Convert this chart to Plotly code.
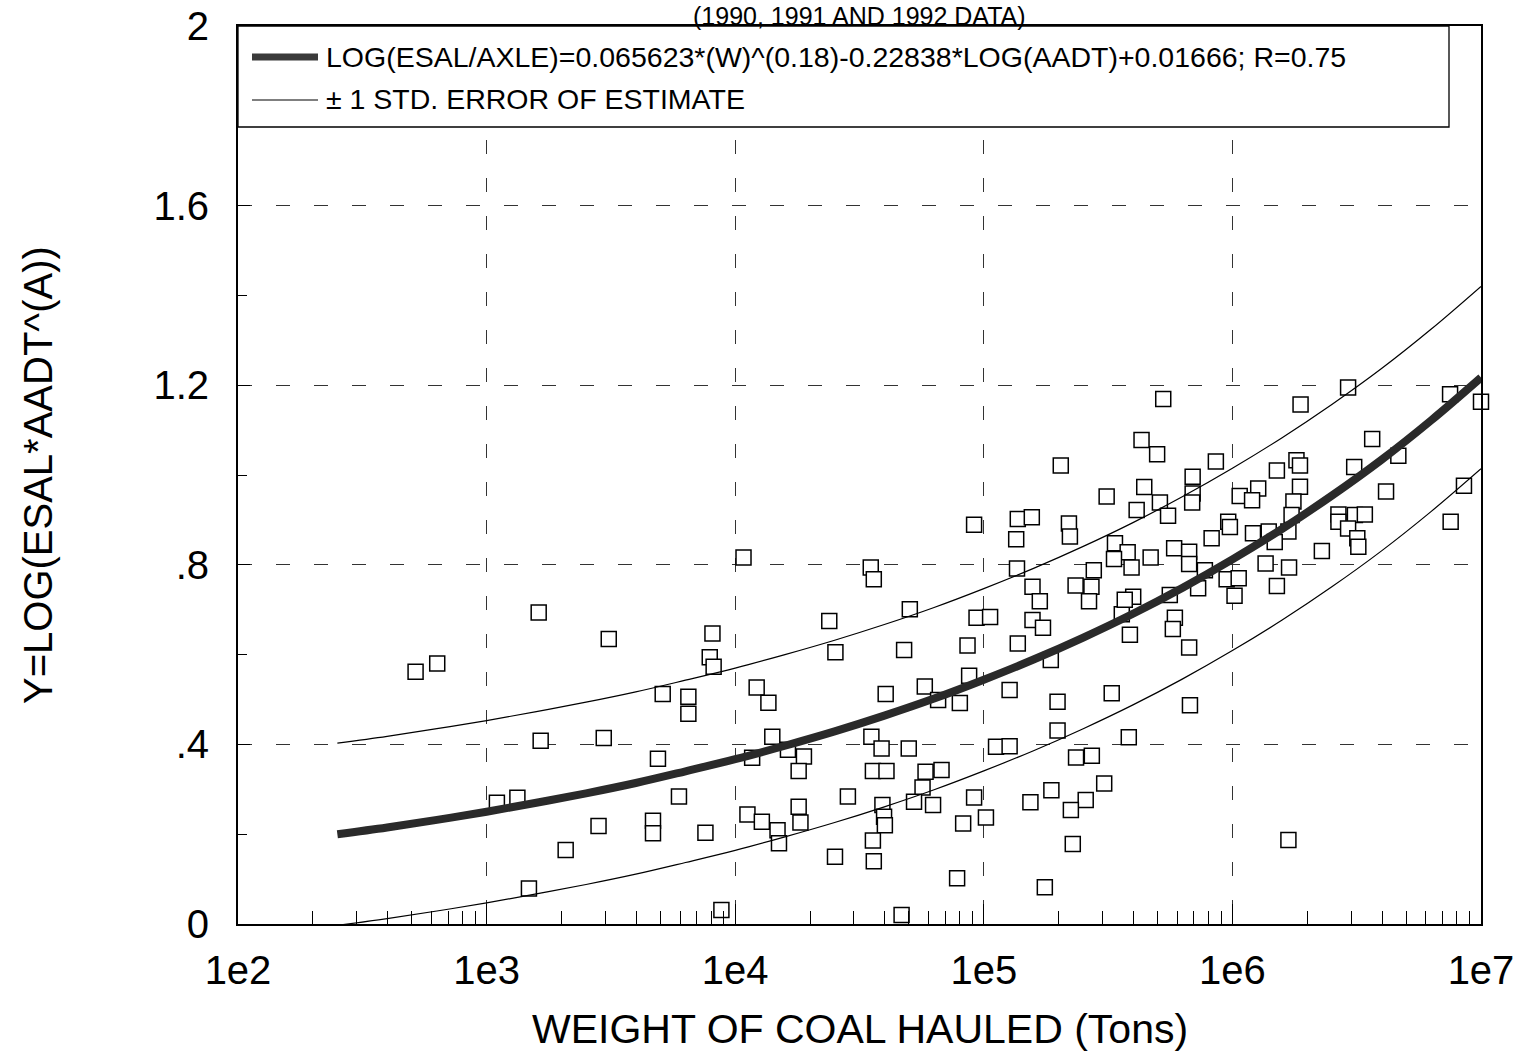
import plotly.graph_objects as go

# ---------------- data ----------------
weight_tons = [
    1620, 3100, 8100, 7900, 8190, 518, 633, 5110, 6480, 6480,
    1650, 2960, 4890, 5940, 1100, 1330, 2820, 4670, 4670, 7590,
    2080, 1480, 8800,
    91400, 137000, 156000, 220000, 135000, 222000, 10800, 35100, 36100, 136000,
    277000, 234000, 271000, 265000, 157000, 168000, 50400, 23900, 93500, 106000,
    157000, 173000, 25300, 47800, 86000, 137000, 186000, 359000, 87300, 12200,
    13600, 40300, 57900, 65500, 80100, 127000, 198000, 327000, 198000, 14100,
    11700, 16300, 18900, 18000, 35300, 38800, 49900, 112000, 127000, 35800,
    40600, 58300, 67600, 235000, 272000, 56700, 52400, 62500, 28400, 91400,
    154000, 187000, 257000, 224000, 305000, 11200, 12800, 18000, 18300, 14800,
    15000, 39100, 39700, 40000, 35800, 36100, 25200, 82600, 102000, 228000,
    78100, 176000, 46700,
    527000, 431000, 498000, 858000, 204000, 692000, 442000, 692000, 312000, 511000,
    689000, 412000, 551000, 1070000, 1270000, 1200000, 962000, 977000, 825000, 1210000,
    337000, 379000, 334000, 393000, 469000, 583000, 670000, 670000, 775000, 728000,
    948000, 1060000, 1020000, 399000, 369000, 560000, 587000, 576000,
    2920000, 7510000, 10000000, 1880000, 3650000, 4650000, 3090000, 1810000, 1870000, 1510000,
    1870000, 4150000, 8540000, 1760000, 1730000, 1400000, 1680000, 1480000, 2670000, 2670000,
    3110000, 3410000, 2920000, 3180000, 3210000, 7550000, 2290000, 1360000, 1690000, 1510000,
    387000, 670000, 675000, 383000, 1680000,
]
y_obs = [
    0.694, 0.635, 0.647, 0.594, 0.573, 0.562, 0.580, 0.512, 0.506, 0.468,
    0.408, 0.414, 0.368, 0.284, 0.270, 0.281, 0.218, 0.230, 0.202, 0.203,
    0.165, 0.079, 0.031,
    0.889, 0.902, 0.906, 0.892, 0.857, 0.863, 0.816, 0.794, 0.768, 0.792,
    0.788, 0.754, 0.751, 0.719, 0.751, 0.719, 0.701, 0.675, 0.682, 0.684,
    0.677, 0.660, 0.605, 0.610, 0.620, 0.625, 0.588, 0.690, 0.553, 0.527,
    0.493, 0.512, 0.529, 0.499, 0.492, 0.521, 0.495, 0.514, 0.431, 0.417,
    0.370, 0.388, 0.373, 0.341, 0.417, 0.391, 0.391, 0.395, 0.396, 0.341,
    0.341, 0.339, 0.343, 0.371, 0.375, 0.304, 0.272, 0.265, 0.284, 0.282,
    0.271, 0.298, 0.276, 0.254, 0.313, 0.244, 0.228, 0.261, 0.226, 0.209,
    0.180, 0.265, 0.239, 0.220, 0.186, 0.140, 0.150, 0.224, 0.237, 0.178,
    0.102, 0.082, 0.020,
    1.169, 1.078, 1.046, 1.030, 1.021, 0.996, 0.973, 0.959, 0.952, 0.939,
    0.939, 0.922, 0.909, 0.953, 0.970, 0.944, 0.896, 0.884, 0.859, 0.870,
    0.848, 0.828, 0.813, 0.794, 0.816, 0.837, 0.829, 0.802, 0.788, 0.748,
    0.768, 0.770, 0.731, 0.729, 0.722, 0.733, 0.682, 0.657,
    1.195, 1.180, 1.163, 1.157, 1.080, 1.043, 1.018, 1.033, 1.021, 1.010,
    0.974, 0.963, 0.976, 0.941, 0.911, 0.874, 0.874, 0.851, 0.912, 0.896,
    0.911, 0.912, 0.881, 0.859, 0.840, 0.896, 0.831, 0.803, 0.794, 0.753,
    0.644, 0.616, 0.487, 0.416, 0.187,
]

curve_w = [251, 398, 631, 1000, 1585, 2512, 3981, 6310, 10000, 15850, 25120, 39810,
           63100, 100000, 158500, 251200, 398100, 631000, 1000000, 1585000,
           2512000, 3981000, 6310000, 10000000]
fit_y = [0.200, 0.215, 0.232, 0.250, 0.270, 0.291, 0.314, 0.340, 0.367, 0.397, 0.429, 0.464,
         0.502, 0.544, 0.589, 0.638, 0.691, 0.749, 0.812, 0.880, 0.954, 1.034, 1.122, 1.217]
upper_y = [0.403, 0.418, 0.435, 0.453, 0.473, 0.494, 0.517, 0.543, 0.570, 0.600, 0.632, 0.667,
           0.705, 0.747, 0.792, 0.841, 0.894, 0.952, 1.015, 1.083, 1.157, 1.237, 1.325, 1.420]
lower_y = [-0.003, 0.012, 0.029, 0.047, 0.067, 0.088, 0.111, 0.137, 0.164, 0.194, 0.226, 0.261,
           0.299, 0.341, 0.386, 0.435, 0.488, 0.546, 0.609, 0.677, 0.751, 0.831, 0.919, 1.014]

x_tick_vals = [1e2, 1e3, 1e4, 1e5, 1e6, 1e7]
x_tick_text = ["1e2", "1e3", "1e4", "1e5", "1e6", "1e7"]
x_minor_vals = [m * 10 ** k for k in range(2, 7) for m in range(2, 10)]
y_tick_vals = [0, 0.4, 0.8, 1.2, 1.6, 2.0]
y_tick_text = ["0", ".4", ".8", "1.2", "1.6", "2"]
y_minor_vals = [0.2, 0.6, 1.0, 1.4, 1.8]

title_text = "(1990, 1991 AND 1992 DATA)"
x_title = "WEIGHT OF COAL HAULED (Tons)"
y_title = "Y=LOG(ESAL*AADT^(A))"
legend_fit = "LOG(ESAL/AXLE)=0.065623*(W)^(0.18)-0.22838*LOG(AADT)+0.01666; R=0.75"
legend_err = "± 1 STD. ERROR OF ESTIMATE"

FONT = "Arial, 'Liberation Sans', Helvetica, sans-serif"

# ---------------- figure ----------------
fig = go.Figure()

fig.add_trace(go.Scatter(
    x=weight_tons, y=y_obs, mode="markers", cliponaxis=False,
    marker=dict(symbol="square", size=15, color="white",
                line=dict(color="black", width=1.5)),
    hoverinfo="skip"))

fig.add_trace(go.Scatter(x=curve_w, y=upper_y, mode="lines", line_shape="spline",
                         line=dict(color="black", width=1.2), hoverinfo="skip"))
fig.add_trace(go.Scatter(x=curve_w, y=lower_y, mode="lines", line_shape="spline",
                         line=dict(color="black", width=1.2), hoverinfo="skip"))
fig.add_trace(go.Scatter(x=curve_w, y=fit_y, mode="lines", line_shape="spline",
                         line=dict(color="#2a2a2a", width=8), hoverinfo="skip"))

W, H = 1526, 1054
ML, MR, MT, MB = 238, 45, 26, 130
PW, PH = W - ML - MR, H - MT - MB


def px_x(p):
    return (p - ML) / PW


def px_y(p):
    return (H - MB - p) / PH


grid_dash = "14px,24px"

fig.update_xaxes(
    type="log", range=[2, 7], automargin=False,
    tickvals=x_tick_vals, ticktext=x_tick_text,
    tickfont=dict(family=FONT, size=40, color="black"),
    ticks="inside", ticklen=20, tickwidth=1.3, tickcolor="black",
    ticklabelstandoff=10,
    showgrid=True, gridcolor="#333333", gridwidth=1, griddash=grid_dash,
    showline=True, linecolor="black", linewidth=1.6, mirror=True,
    zeroline=False,
    minor=dict(tickvals=x_minor_vals, ticks="inside", ticklen=13,
               tickwidth=1.3, tickcolor="black", showgrid=False),
)
fig.update_yaxes(
    range=[0, 2], automargin=False,
    tickvals=y_tick_vals, ticktext=y_tick_text,
    tickfont=dict(family=FONT, size=40, color="black"),
    ticks="inside", ticklen=12, tickwidth=1.3, tickcolor="black",
    ticklabelstandoff=19,
    showgrid=True, gridcolor="#333333", gridwidth=1, griddash=grid_dash,
    showline=True, linecolor="black", linewidth=2, mirror=True,
    zeroline=False,
    minor=dict(tickvals=y_minor_vals, ticks="inside", ticklen=9,
               tickwidth=1.3, tickcolor="black", showgrid=False),
)

shapes = [
    # legend box
    dict(type="rect", xref="paper", yref="paper",
         x0=0, x1=px_x(1449), y0=px_y(127), y1=1.0,
         fillcolor="white", line=dict(color="black", width=1.3), layer="above"),
    dict(type="line", xref="paper", yref="paper",
         x0=px_x(252), x1=px_x(318), y0=px_y(57), y1=px_y(57),
         line=dict(color="#3a3a3a", width=7), layer="above"),
    dict(type="line", xref="paper", yref="paper",
         x0=px_x(252), x1=px_x(318), y0=px_y(100), y1=px_y(100),
         line=dict(color="black", width=1.2), layer="above"),
]

annotations = [
    dict(text=legend_fit, xref="paper", yref="paper", x=px_x(324), y=px_y(57),
         xanchor="left", yanchor="middle", showarrow=False,
         font=dict(family=FONT, size=28.5, color="black")),
    dict(text=legend_err, xref="paper", yref="paper", x=px_x(324), y=px_y(99),
         xanchor="left", yanchor="middle", showarrow=False,
         font=dict(family=FONT, size=28.5, color="black")),
    dict(text=title_text, xref="paper", yref="paper", x=0.5, y=px_y(0),
         xanchor="center", yanchor="top", showarrow=False,
         font=dict(family=FONT, size=25, color="black")),
    dict(text=x_title, xref="paper", yref="paper", x=0.5, y=px_y(1029),
         xanchor="center", yanchor="middle", showarrow=False,
         font=dict(family=FONT, size=41, color="black")),
    dict(text=y_title, xref="paper", yref="paper", x=px_x(38), y=0.5,
         xanchor="center", yanchor="middle", textangle=-90, showarrow=False,
         font=dict(family=FONT, size=40, color="black")),
]

fig.update_layout(
    width=W, height=H,
    margin=dict(l=ML, r=MR, t=MT, b=MB, pad=0),
    paper_bgcolor="white", plot_bgcolor="white",
    showlegend=False,
    shapes=shapes, annotations=annotations,
    font=dict(family=FONT, color="black"),
)

fig.write_html("out.html")
